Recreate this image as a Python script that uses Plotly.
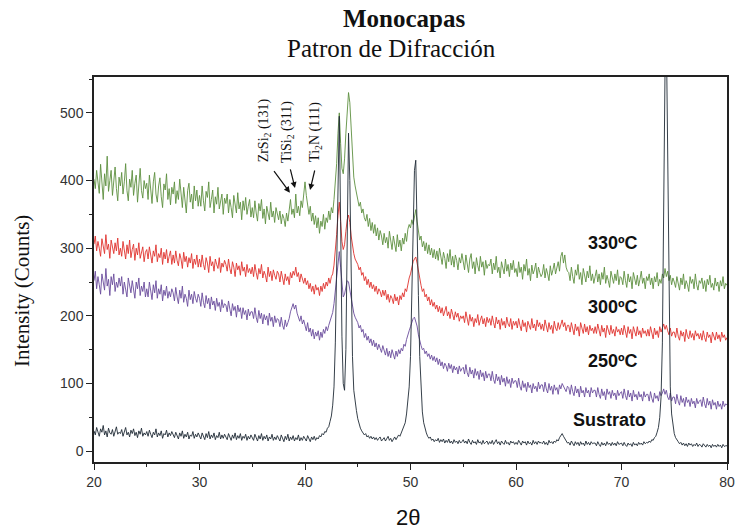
import numpy as np
import plotly.graph_objects as go

# 2-theta sampling grid (0.125 deg steps, 20..80)
two_theta = np.round(np.arange(20.0, 80.0001, 0.125), 3)

# Intensities; each row = 2.5 degrees (20 samples)
i_330 = [
    402, 388, 415, 396, 381, 424, 398, 372, 410, 392, 436, 384, 400, 415, 378, 395, 420, 388, 370, 405,
    392, 412, 380, 398, 425, 385, 370, 402, 390, 415, 378, 396, 408, 368, 392, 418, 385, 374, 400, 388,
    396, 372, 408, 385, 366, 398, 412, 380, 368, 392, 404, 376, 360, 395, 386, 410, 372, 388, 364, 390,
    380, 398, 366, 385, 372, 402, 378, 360, 390, 374, 352, 385, 396, 368, 380, 358, 392, 370, 386, 362,
    378, 362, 392, 370, 355, 384, 375, 398, 360, 372, 386, 352, 376, 365, 390, 358, 370, 380, 350, 374,
    366, 380, 352, 372, 360, 345, 378, 364, 352, 382, 358, 368, 342, 370, 356, 375, 350, 362, 372, 346,
    360, 345, 370, 352, 340, 366, 355, 372, 344, 358, 336, 362, 350, 342, 368, 346, 355, 338, 360, 350,
    342, 355, 336, 350, 344, 332, 352, 340, 356, 372, 350, 358, 345, 380, 352, 362, 348, 370, 360, 385,
    398, 378, 365, 350, 362, 340, 352, 335, 348, 330, 345, 322, 340, 332, 350, 328, 345, 338, 355, 342,
    360, 352, 372, 395, 425, 470, 500, 455, 418, 410, 432, 470, 505, 530, 515, 470, 430, 405, 392, 380,
    372, 362, 368, 352, 358, 345, 340, 350, 332, 344, 326, 338, 322, 335, 318, 330, 312, 326, 318, 305,
    322, 308, 316, 300, 325, 310, 298, 318, 305, 295, 320, 302, 312, 296, 315, 306, 322, 310, 328, 335,
    330, 342, 335, 350, 357, 340, 325, 312, 318, 302, 310, 296, 308, 292, 305, 290, 300, 286, 298, 284,
    296, 282, 300, 288, 276, 294, 285, 270, 292, 280, 298, 275, 288, 272, 290, 282, 268, 286, 278, 292,
    280, 268, 290, 276, 264, 284, 292, 270, 280, 262, 286, 274, 266, 288, 272, 280, 260, 282, 270, 276,
    274, 284, 262, 278, 268, 288, 264, 272, 256, 280, 270, 262, 284, 266, 276, 258, 278, 268, 282, 264,
    270, 258, 280, 264, 272, 254, 276, 266, 284, 260, 270, 252, 275, 262, 268, 278, 256, 272, 264, 258,
    262, 276, 256, 270, 262, 252, 274, 260, 268, 278, 262, 272, 280, 266, 288, 294, 278, 290, 272, 266,
    264, 252, 272, 258, 248, 268, 260, 276, 254, 264, 246, 270, 258, 250, 266, 256, 274, 252, 262, 248,
    258, 268, 250, 262, 246, 264, 254, 272, 248, 260, 252, 242, 266, 256, 248, 262, 252, 268, 246, 258,
    256, 246, 266, 252, 242, 262, 250, 258, 240, 264, 252, 246, 260, 244, 254, 266, 248, 256, 240, 258,
    252, 262, 246, 256, 240, 258, 250, 264, 244, 254, 248, 262, 256, 270, 258, 266, 252, 260, 246, 256,
    250, 242, 258, 248, 238, 256, 246, 262, 240, 252, 246, 236, 258, 248, 254, 240, 262, 246, 238, 252,
    248, 256, 240, 252, 236, 254, 246, 260, 242, 248, 238, 256, 244, 250, 236, 252, 244, 258, 240, 248,
    245,
]
i_300 = [
    306, 318, 296, 310, 300, 288, 314, 302, 292, 320, 298, 306, 285, 312, 300, 292, 308, 296, 315, 290,
    300, 288, 310, 296, 284, 305, 292, 312, 286, 298, 306, 282, 300, 290, 308, 285, 296, 302, 280, 294,
    298, 284, 302, 290, 278, 296, 288, 305, 280, 292, 286, 300, 276, 294, 284, 298, 278, 288, 296, 276,
    290, 278, 296, 282, 274, 292, 284, 270, 294, 280, 288, 272, 286, 278, 292, 270, 284, 276, 290, 272,
    284, 272, 290, 276, 268, 286, 278, 264, 288, 274, 280, 266, 284, 276, 270, 286, 264, 278, 272, 282,
    276, 266, 284, 270, 262, 280, 272, 258, 278, 268, 274, 260, 280, 266, 272, 258, 276, 264, 270, 262,
    272, 258, 276, 264, 254, 270, 262, 276, 256, 266, 260, 250, 272, 258, 266, 252, 268, 260, 254, 266,
    262, 250, 266, 256, 246, 262, 252, 258, 246, 264, 256, 266, 260, 272, 258, 264, 250, 262, 254, 248,
    256, 246, 252, 240, 248, 236, 244, 232, 246, 238, 242, 230, 244, 236, 248, 240, 250, 244, 256, 248,
    258, 262, 275, 295, 320, 348, 368, 340, 310, 298, 305, 325, 342, 349, 338, 318, 300, 292, 284, 280,
    276, 268, 272, 260, 264, 252, 258, 246, 254, 242, 250, 240, 246, 236, 244, 232, 240, 236, 228, 238,
    230, 238, 224, 232, 220, 230, 226, 218, 232, 222, 228, 216, 230, 224, 234, 228, 240, 236, 250, 256,
    262, 272, 280, 284, 287, 278, 265, 252, 245, 236, 240, 228, 232, 222, 228, 216, 224, 214, 220, 210,
    216, 206, 214, 204, 212, 200, 208, 214, 200, 206, 196, 210, 202, 194, 206, 198, 204, 192, 200, 196,
    200, 190, 206, 194, 186, 202, 192, 198, 184, 196, 190, 202, 186, 194, 200, 188, 196, 184, 198, 190,
    196, 186, 200, 190, 182, 198, 188, 194, 180, 196, 186, 192, 182, 198, 188, 184, 196, 180, 192, 186,
    192, 182, 196, 186, 178, 194, 184, 190, 176, 192, 184, 180, 196, 182, 188, 178, 194, 184, 190, 180,
    188, 178, 194, 182, 176, 190, 180, 186, 174, 192, 182, 178, 190, 180, 188, 194, 184, 190, 178, 186,
    186, 176, 190, 180, 172, 188, 178, 184, 170, 190, 180, 174, 188, 176, 184, 172, 186, 178, 182, 174,
    184, 174, 188, 178, 170, 186, 176, 182, 168, 186, 178, 172, 186, 174, 180, 170, 184, 176, 180, 172,
    182, 172, 186, 176, 168, 184, 174, 180, 166, 184, 176, 170, 184, 172, 178, 168, 182, 174, 178, 170,
    180, 170, 184, 174, 166, 182, 172, 178, 168, 184, 176, 182, 188, 180, 186, 178, 172, 182, 170, 176,
    176, 168, 182, 170, 164, 178, 170, 176, 162, 180, 170, 166, 178, 168, 174, 164, 178, 170, 174, 166,
    174, 164, 178, 168, 162, 176, 168, 172, 160, 176, 168, 164, 176, 166, 172, 162, 176, 168, 172, 164,
    168,
]
i_250 = [
    252, 266, 240, 258, 246, 232, 262, 250, 238, 270, 244, 254, 230, 258, 246, 262, 236, 250, 242, 256,
    244, 258, 232, 250, 240, 228, 256, 242, 234, 252, 238, 226, 250, 240, 256, 230, 244, 236, 250, 228,
    240, 228, 250, 236, 224, 246, 234, 252, 226, 240, 232, 246, 222, 238, 230, 244, 226, 236, 228, 240,
    234, 222, 242, 228, 218, 238, 226, 244, 220, 232, 226, 214, 238, 224, 232, 218, 236, 226, 220, 232,
    226, 214, 234, 220, 212, 230, 218, 226, 210, 228, 216, 222, 208, 226, 214, 220, 206, 224, 212, 218,
    216, 206, 222, 210, 200, 218, 208, 214, 198, 216, 206, 212, 196, 212, 202, 208, 194, 210, 200, 206,
    206, 196, 212, 198, 190, 208, 196, 204, 188, 202, 194, 200, 186, 204, 192, 198, 184, 200, 190, 196,
    194, 184, 198, 186, 180, 194, 184, 190, 196, 206, 212, 218, 210, 216, 204, 198, 192, 200, 188, 194,
    186, 178, 190, 176, 182, 170, 180, 166, 176, 170, 178, 164, 176, 168, 180, 174, 184, 178, 186, 192,
    196, 205, 218, 240, 262, 285, 295, 272, 245, 228, 232, 244, 252, 250, 238, 222, 210, 204, 198, 194,
    190, 182, 186, 176, 180, 168, 174, 164, 170, 160, 166, 156, 164, 154, 160, 150, 158, 152, 146, 156,
    150, 142, 152, 140, 148, 138, 150, 142, 136, 148, 140, 150, 144, 152, 148, 158, 155, 165, 170, 178,
    184, 190, 196, 198, 192, 185, 172, 162, 156, 150, 152, 144, 148, 140, 144, 136, 142, 134, 140, 132,
    138, 128, 136, 126, 132, 122, 130, 126, 118, 130, 122, 128, 116, 126, 120, 124, 114, 126, 118, 122,
    124, 114, 128, 116, 110, 124, 114, 120, 108, 122, 112, 118, 106, 120, 110, 116, 104, 118, 108, 114,
    114, 104, 118, 106, 100, 114, 104, 110, 98, 112, 102, 108, 96, 110, 100, 106, 94, 108, 100, 104,
    104, 94, 108, 96, 90, 104, 94, 100, 88, 102, 94, 98, 86, 100, 92, 96, 88, 102, 92, 98,
    98, 88, 102, 92, 86, 100, 90, 96, 84, 98, 90, 94, 84, 98, 92, 100, 96, 92, 88, 96,
    94, 84, 98, 88, 82, 96, 86, 92, 80, 96, 86, 90, 80, 94, 86, 90, 80, 94, 86, 90,
    90, 80, 94, 84, 78, 92, 82, 88, 76, 92, 84, 88, 78, 90, 82, 86, 76, 90, 82, 86,
    88, 78, 92, 82, 76, 90, 80, 86, 74, 90, 80, 84, 76, 88, 80, 84, 74, 88, 80, 84,
    84, 74, 88, 78, 72, 86, 78, 82, 74, 88, 82, 86, 92, 84, 90, 80, 76, 86, 74, 80,
    80, 70, 84, 74, 68, 82, 72, 78, 66, 80, 72, 76, 66, 78, 70, 74, 64, 78, 70, 74,
    76, 66, 80, 70, 64, 78, 68, 74, 62, 76, 68, 72, 62, 74, 66, 70, 62, 74, 66, 70,
    68,
]
i_sustrato = [
    30, 24, 35, 27, 22, 33, 28, 38, 24, 30, 21, 34, 27, 25, 32, 22, 29, 36, 25, 28,
    26, 32, 22, 29, 35, 24, 28, 21, 31, 26, 33, 23, 28, 20, 30, 25, 34, 22, 27, 24,
    29, 22, 31, 25, 20, 28, 24, 33, 21, 27, 23, 30, 19, 26, 24, 31, 21, 27, 23, 29,
    24, 20, 28, 23, 18, 27, 22, 30, 19, 25, 21, 28, 18, 24, 22, 29, 19, 25, 21, 27,
    23, 18, 27, 21, 17, 26, 20, 29, 18, 24, 20, 27, 17, 23, 20, 28, 18, 24, 19, 25,
    22, 17, 26, 20, 16, 24, 19, 27, 17, 23, 19, 26, 16, 22, 19, 25, 16, 22, 18, 24,
    21, 16, 25, 19, 15, 23, 18, 26, 16, 22, 18, 24, 15, 21, 18, 25, 16, 21, 17, 23,
    20, 15, 24, 18, 14, 22, 17, 25, 15, 21, 17, 23, 15, 20, 17, 24, 15, 20, 16, 22,
    19, 15, 23, 17, 14, 21, 17, 22, 16, 20, 18, 23, 21, 26, 24, 29, 28, 34, 36, 44,
    52, 68, 95, 160, 290, 430, 495, 340, 170, 100, 90, 150, 320, 470, 400, 240, 140, 90, 70, 60,
    48, 40, 34, 30, 27, 24, 26, 21, 23, 19, 22, 18, 21, 17, 20, 16, 19, 21, 15, 18,
    20, 15, 18, 22, 16, 19, 14, 18, 21, 17, 20, 24, 22, 27, 30, 36, 42, 55, 72, 95,
    140, 220, 330, 415, 430, 350, 230, 140, 85, 58, 42, 33, 27, 22, 19, 21, 16, 18, 14, 17,
    15, 19, 13, 17, 14, 18, 12, 16, 13, 18, 12, 15, 11, 17, 13, 15, 11, 16, 12, 14,
    17, 12, 15, 11, 18, 13, 10, 16, 12, 14, 10, 17, 12, 14, 10, 16, 11, 13, 15, 10,
    14, 11, 16, 10, 13, 17, 11, 14, 9, 15, 12, 10, 16, 11, 13, 9, 15, 12, 14, 10,
    13, 10, 16, 11, 9, 15, 12, 14, 9, 15, 11, 13, 9, 16, 11, 14, 10, 15, 12, 13,
    11, 15, 10, 13, 9, 16, 12, 14, 11, 15, 13, 17, 15, 20, 23, 26, 22, 18, 14, 12,
    13, 9, 15, 11, 8, 14, 10, 13, 8, 14, 10, 12, 8, 15, 10, 13, 9, 14, 11, 12,
    12, 8, 14, 10, 7, 13, 9, 12, 8, 14, 10, 12, 8, 13, 9, 12, 8, 14, 10, 11,
    12, 8, 13, 9, 7, 12, 9, 11, 7, 13, 9, 11, 8, 13, 10, 12, 9, 14, 11, 13,
    12, 15, 13, 17, 16, 20, 22, 28, 35, 50, 80, 160, 330, 560, 620, 420, 200, 95, 55, 36,
    26, 20, 16, 14, 11, 13, 9, 12, 8, 11, 7, 12, 9, 11, 7, 10, 8, 12, 7, 10,
    9, 6, 11, 8, 6, 10, 7, 9, 5, 10, 7, 9, 6, 10, 7, 9, 5, 10, 7, 8,
    8,
]

series_names = ["330ºC", "300ºC", "250ºC", "Sustrato"]
series_values = [i_330, i_300, i_250, i_sustrato]
series_colors = ["#5e9040", "#e0322e", "#6a4c9c", "#1f2a36"]

# label positions (2theta, counts)
label_x = [69.2, 69.2, 69.2, 68.9]
label_y = [308, 213, 133, 46]

peak_labels = ["ZrSi<sub>2</sub> (131)", "TiSi<sub>2</sub> (311)", "Ti<sub>2</sub>N (111)"]
peak_text_x = [36.2, 38.4, 41.05]
peak_text_y = [474, 472, 472]
peak_tip_x = [38.57, 39.05, 40.48]
peak_tip_y = [382, 389, 386]
arrow_ax = [-17, -5, 5]
arrow_ay = [-23, -20, -21]

for v in series_values:
    assert len(v) == len(two_theta), (len(v), len(two_theta))

fig = go.Figure()
for name, vals, col in zip(series_names, series_values, series_colors):
    fig.add_trace(go.Scatter(x=two_theta, y=vals, mode="lines", name=name,
                             line=dict(color=col, width=0.9)))

for name, lx, ly in zip(series_names, label_x, label_y):
    fig.add_annotation(x=lx, y=ly, text="<b>%s</b>" % name, showarrow=False,
                       font=dict(family="Arial, Liberation Sans", size=18, color="#111"),
                       xanchor="center", yanchor="middle")

for t, tx, ty in zip(peak_labels, peak_text_x, peak_text_y):
    fig.add_annotation(x=tx, y=ty, text=t, showarrow=False, textangle=-90,
                       font=dict(family="Liberation Serif, Times New Roman", size=14, color="#111"),
                       xanchor="center", yanchor="middle")

for px, py, ax, ay in zip(peak_tip_x, peak_tip_y, arrow_ax, arrow_ay):
    fig.add_annotation(x=px, y=py, text="", showarrow=True, ax=ax, ay=ay,
                       arrowhead=2, arrowsize=1, arrowwidth=1.2, arrowcolor="#111")

fig.add_annotation(xref="paper", yref="paper", x=0.491, y=1.153, text="<b>Monocapas</b>",
                   showarrow=False, font=dict(family="Liberation Serif, Times New Roman", size=25, color="#111"),
                   xanchor="center", yanchor="middle")
fig.add_annotation(xref="paper", yref="paper", x=0.47, y=1.075, text="Patron de Difracción",
                   showarrow=False, font=dict(family="Liberation Serif, Times New Roman", size=25, color="#111"),
                   xanchor="center", yanchor="middle")
fig.add_annotation(xref="paper", yref="paper", x=-0.114, y=0.444, text="Intensity (Counts)",
                   showarrow=False, textangle=-90,
                   font=dict(family="Liberation Serif, Times New Roman", size=21, color="#111"),
                   xanchor="center", yanchor="middle")
fig.add_annotation(xref="paper", yref="paper", x=0.496, y=-0.143, text="2θ",
                   showarrow=False, font=dict(family="Arial, Liberation Sans", size=22, color="#111"),
                   xanchor="center", yanchor="middle")

axis_common = dict(showline=True, linecolor="#222", linewidth=1.5, mirror=True,
                   ticks="outside", ticklen=6, tickwidth=1.2, tickcolor="#222",
                   showgrid=False, zeroline=False, automargin=False,
                   tickfont=dict(family="Arial, Liberation Sans", size=14, color="#333"))

fig.update_layout(
    width=735, height=530,
    margin=dict(l=94, r=8, t=77, b=68),
    paper_bgcolor="white", plot_bgcolor="white",
    showlegend=False,
    xaxis=dict(range=[20, 80], dtick=10, tick0=20,
               minor=dict(dtick=5, ticks="outside", ticklen=3, tickcolor="#222", showgrid=False),
               **axis_common),
    yaxis=dict(range=[-16, 553], dtick=100, tick0=0,
               minor=dict(dtick=50, ticks="outside", ticklen=3, tickcolor="#222", showgrid=False),
               **axis_common),
)

fig.write_html("out.html")
